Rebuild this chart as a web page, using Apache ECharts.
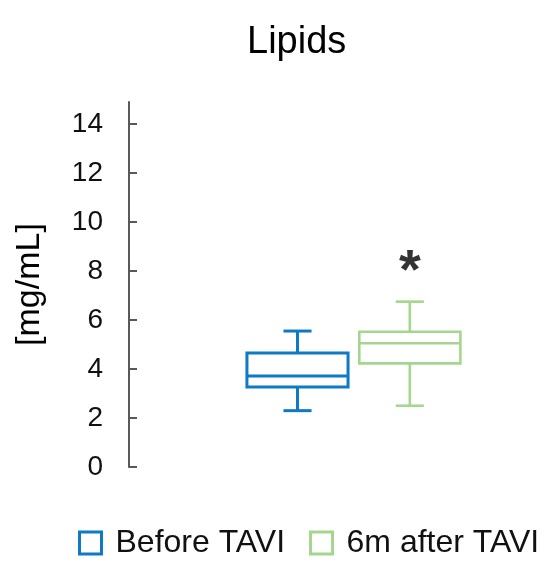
<!DOCTYPE html>
<html>
<head>
<meta charset="utf-8">
<script src="https://cdn.jsdelivr.net/npm/echarts@6/dist/echarts.min.js"></script>
<style>
html, body { margin: 0; padding: 0; background: #fff; }
#chart { width: 550px; height: 573px; }
</style>
</head>
<body>
<div id="chart"></div>
<script>
// categories on the x axis, first slot left empty like the original figure
const categories = ['', 'Before TAVI', '6m after TAVI']
const seriesNames = ['Before TAVI', '6m after TAVI']
// [min, Q1, median, Q3, max]
const beforeBox = [2.30, 3.27, 3.71, 4.65, 5.55]
const afterBox = [2.50, 4.23, 5.05, 5.52, 6.75]
const yTicks = [0, 2, 4, 6, 8, 10, 12, 14]
// significance mark above the second group
const starMark = [[2, 7.95]]

const BLUE = '#0d7ac3'
const GREEN = '#a5d68d'
const FONT = 'Liberation Sans, Arial, sans-serif'

function makeBoxRender(color, lw){
  return function(params, api){
    let xi = api.value(0)
    let lo = api.coord([xi, api.value(1)])
    let q1 = api.coord([xi, api.value(2)])
    let med = api.coord([xi, api.value(3)])
    let q3 = api.coord([xi, api.value(4)])
    let hi = api.coord([xi, api.value(5)])
    let band = api.size([1, 0])[0]
    let bw = band * 0.9
    let cw = band * 0.25
    let x = med[0]
    let st = {stroke: color, lineWidth: lw, fill: null}
    return {
      type: 'group',
      children: [
        {type: 'rect', shape: {x: x - bw / 2, y: q3[1], width: bw, height: q1[1] - q3[1]}, style: st},
        {type: 'line', shape: {x1: x - bw / 2, y1: med[1], x2: x + bw / 2, y2: med[1]}, style: st},
        {type: 'line', shape: {x1: x, y1: q3[1], x2: x, y2: hi[1]}, style: st},
        {type: 'line', shape: {x1: x, y1: q1[1], x2: x, y2: lo[1]}, style: st},
        {type: 'line', shape: {x1: x - cw / 2, y1: hi[1], x2: x + cw / 2, y2: hi[1]}, style: st},
        {type: 'line', shape: {x1: x - cw / 2, y1: lo[1], x2: x + cw / 2, y2: lo[1]}, style: st}
      ]
    }
  }
}

let chart = echarts.init(document.getElementById('chart'))
let chartOpt = {
  animation: false,
  textStyle: {fontFamily: FONT},
  title: {
    text: 'Lipids',
    left: 242,
    top: 19,
    textStyle: {fontSize: 38, fontWeight: 'normal', color: '#000', fontFamily: FONT}
  },
  legend: {
    left: 78,
    top: 527,
    padding: 0,
    itemWidth: 22,
    itemHeight: 22,
    itemGap: 24,
    textStyle: {fontSize: 32, color: '#111', fontFamily: FONT, padding: [0, 0, 0, 9]},
    data: [
      {name: seriesNames[0], icon: 'rect', itemStyle: {color: '#fff', borderColor: BLUE, borderWidth: 3}},
      {name: seriesNames[1], icon: 'rect', itemStyle: {color: '#fff', borderColor: GREEN, borderWidth: 3}}
    ]
  },
  grid: {left: 129, right: 84, top: 102, bottom: 106},
  xAxis: {
    type: 'category',
    data: categories,
    show: false
  },
  yAxis: {
    type: 'value',
    min: 0,
    max: 14.9,
    interval: 2,
    name: '[mg/mL]',
    nameLocation: 'middle',
    nameGap: 82,
    nameTextStyle: {fontSize: 34, color: '#000', fontFamily: FONT},
    axisLine: {show: true, lineStyle: {color: '#595959', width: 2}},
    axisTick: {show: true, inside: false, length: -8, lineStyle: {color: '#595959', width: 2}, customValues: yTicks},
    axisLabel: {fontSize: 28, color: '#111', margin: 26, fontFamily: FONT, customValues: yTicks},
    splitLine: {show: false}
  },
  series: [
    {
      name: seriesNames[0],
      type: 'custom',
      itemStyle: {color: BLUE},
      renderItem: makeBoxRender(BLUE, 3),
      encode: {x: 0, y: [1, 2, 3, 4, 5]},
      data: [[1].concat(beforeBox)]
    },
    {
      name: seriesNames[1],
      type: 'custom',
      itemStyle: {color: GREEN},
      renderItem: makeBoxRender(GREEN, 2.6),
      encode: {x: 0, y: [1, 2, 3, 4, 5]},
      data: [[2].concat(afterBox)]
    },
    {
      name: 'sig',
      type: 'scatter',
      symbolSize: 1,
      itemStyle: {color: 'rgba(0,0,0,0)'},
      silent: true,
      label: {
        show: true,
        position: 'inside',
        formatter: '*',
        fontSize: 56,
        fontWeight: 'bold',
        color: '#000',
        fontFamily: FONT
      },
      data: starMark
    }
  ]
}
chart.setOption(chartOpt)
</script>
</body>
</html>
